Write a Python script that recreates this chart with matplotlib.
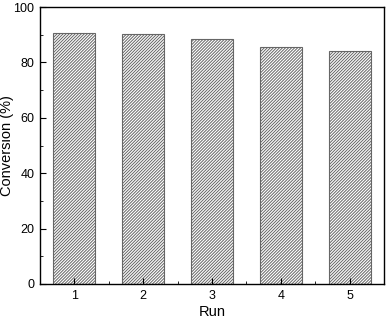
import matplotlib
matplotlib.use("Agg")
import matplotlib.pyplot as plt
from matplotlib.ticker import MultipleLocator

runs = [1, 2, 3, 4, 5]
conversion = [90.5, 90.2, 88.3, 85.4, 84.1]

plt.rcParams["font.family"] = ["Liberation Sans", "DejaVu Sans"]
plt.rcParams["hatch.linewidth"] = 0.7
plt.rcParams["hatch.color"] = "#444444"

fig = plt.figure(figsize=(3.87, 3.19), dpi=100)
ax = fig.add_axes([40 / 387, 1 - 284 / 319, 344 / 387, 277 / 319])

ax.bar(runs, conversion, width=0.61, color="white", edgecolor="#666666",
       hatch="/" * 11, linewidth=0.8)

ax.set_xlim(0.5, 5.5)
ax.set_ylim(0, 100)
ax.xaxis.set_major_locator(MultipleLocator(1))
ax.xaxis.set_minor_locator(MultipleLocator(0.5))
ax.yaxis.set_major_locator(MultipleLocator(20))
ax.yaxis.set_minor_locator(MultipleLocator(10))
ax.tick_params(which="both", direction="in", labelsize=9)
ax.tick_params(which="major", length=4, pad=4)
ax.tick_params(which="minor", length=2.5)
for s in ax.spines.values():
    s.set_linewidth(1.0)

ax.set_xlabel("Run", fontsize=10.5)
ax.set_ylabel("Conversion (%)", fontsize=10.5)
# pull the axis titles in close, like the reference
ax.xaxis.set_label_coords(0.5, -0.075)
ax.yaxis.set_label_coords(-0.075, 0.5)

fig.savefig("out.png", dpi=100)
